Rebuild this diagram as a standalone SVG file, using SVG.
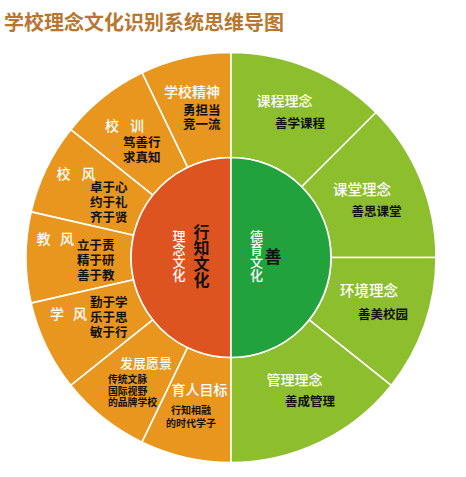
<svg xmlns="http://www.w3.org/2000/svg" width="466" height="477" viewBox="0 0 466 477">
<style>
text{font-family:"Noto Sans CJK SC","Noto Sans",sans-serif;}
.seg{stroke:#fff;stroke-width:1.6;stroke-linejoin:round}
.o{fill:#E8961E}
.g{fill:#8DBE2E}
.w{fill:#fff;font-size:14px;font-weight:500}
.b{fill:#111;font-size:12.5px;font-weight:bold}
.s{fill:#111;font-size:9.8px;font-weight:bold}
.v{writing-mode:vertical-rl;text-orientation:upright}
.title{fill:#B7772F;font-size:20px;font-weight:bold}
</style>
<rect width="466" height="477" fill="#fff"/>
<text class="title" x="4" y="30">学校理念文化识别系统思维导图</text>

<g id="seg-xuexiaojingshen">
<path class="seg o" d="M231,52.5 A205,205 0 0 0 142.055,72.801 L187.612,167.403 A100,100 0 0 1 231,157.5 Z"/>
<text class="w" x="164" y="97">学校精神</text>
<text class="b" x="183" y="115">勇担当</text>
<text class="b" x="183" y="128.5">竞一流</text>
</g>
<g id="seg-xiaoxun">
<path class="seg o" d="M142.055,72.801 A205,205 0 0 0 70.725,129.685 L152.817,195.151 A100,100 0 0 1 187.612,167.403 Z"/>
<text class="w" x="105" y="131">校 <tspan x="130">训</tspan></text>
<text class="b" x="123" y="147">笃善行</text>
<text class="b" x="123" y="161.5">求真知</text>
</g>
<g id="seg-xiaofeng">
<path class="seg o" d="M70.725,129.685 A205,205 0 0 0 31.139,211.883 L133.507,235.248 A100,100 0 0 1 152.817,195.151 Z"/>
<text class="w" x="56.5" y="179">校 <tspan x="81.5">风</tspan></text>
<text class="b" x="90" y="192">卓于心</text>
<text class="b" x="90" y="207">约于礼</text>
<text class="b" x="90" y="222">齐于贤</text>
</g>
<g id="seg-jiaofeng">
<path class="seg o" d="M31.139,211.883 A205,205 0 0 0 31.139,303.117 L133.507,279.752 A100,100 0 0 1 133.507,235.248 Z"/>
<text class="w" x="36.5" y="244">教 <tspan x="60">风</tspan></text>
<text class="b" x="77" y="250">立于责</text>
<text class="b" x="77" y="265">精于研</text>
<text class="b" x="77" y="280">善于教</text>
</g>
<g id="seg-xuefeng">
<path class="seg o" d="M31.139,303.117 A205,205 0 0 0 70.725,385.315 L152.817,319.849 A100,100 0 0 1 133.507,279.752 Z"/>
<text class="w" x="50" y="318.5">学 <tspan x="73">风</tspan></text>
<text class="b" x="90" y="307">勤于学</text>
<text class="b" x="90" y="322">乐于思</text>
<text class="b" x="90" y="337">敏于行</text>
</g>
<g id="seg-fazhanyuanjing">
<path class="seg o" d="M70.725,385.315 A205,205 0 0 0 142.055,442.199 L187.612,347.597 A100,100 0 0 1 152.817,319.849 Z"/>
<text class="w" x="120" y="368" style="font-size:13px">发展愿景</text>
<text class="s" x="108" y="383">传统文脉</text>
<text class="s" x="108" y="394.5">国际视野</text>
<text class="s" x="108" y="406">的品牌学校</text>
</g>
<g id="seg-yurenmubiao">
<path class="seg o" d="M142.055,442.199 A205,205 0 0 0 231,462.5 L231,357.5 A100,100 0 0 1 187.612,347.597 Z"/>
<text class="w" x="171.5" y="395">育人目标</text>
<text class="s" x="191" y="413.5" text-anchor="middle" style="font-size:10px">行知相融</text>
<text class="s" x="191" y="427" text-anchor="middle" style="font-size:10px">的时代学子</text>
</g>

<g id="seg-kechenglinian">
<path class="seg g" d="M231,52.5 A205,205 0 0 1 375.957,112.543 L301.711,186.789 A100,100 0 0 0 231,157.5 Z"/>
<text class="w" x="256.5" y="106">课程理念</text>
<text class="b" x="275" y="128">善学课程</text>
</g>
<g id="seg-ketanglinian">
<path class="seg g" d="M375.957,112.543 A205,205 0 0 1 436,257.5 L331,257.5 A100,100 0 0 0 301.711,186.789 Z"/>
<text class="w" x="333" y="195" style="font-size:14.5px">课堂理念</text>
<text class="b" x="351.5" y="216">善思课堂</text>
</g>
<g id="seg-huanjinglinian">
<path class="seg g" d="M436,257.5 A205,205 0 0 1 391.21,385.4 L309.152,319.888 A100,100 0 0 0 331,257.5 Z"/>
<text class="w" x="340" y="296" style="font-size:14.5px">环境理念</text>
<text class="b" x="358" y="319">善美校园</text>
</g>
<g id="seg-guanlilinian">
<path class="seg g" d="M391.21,385.4 A205,205 0 0 1 231,462.5 L231,357.5 A100,100 0 0 0 309.152,319.888 Z"/>
<text class="w" x="266.5" y="385">管理理念</text>
<text class="b" x="285" y="406">善成管理</text>
</g>

<g id="center-left">
<path class="seg" fill="#DE5420" d="M231,157.5 A100,100 0 0 0 231,357.5 Z"/>
<text class="w v" x="179" y="229.5" style="font-size:13px">理念文化</text>
<text class="b v" x="201.5" y="224" style="font-size:16px">行知文化</text>
</g>
<g id="center-right">
<path class="seg" fill="#22A23C" d="M231,157.5 A100,100 0 0 1 231,357.5 Z"/>
<text class="w v" x="256.5" y="229.5" style="font-size:13px">德育文化</text>
<text class="b" x="273" y="263" text-anchor="middle" style="font-size:17px">善</text>
</g>
<g id="connectors"></g>
</svg>
